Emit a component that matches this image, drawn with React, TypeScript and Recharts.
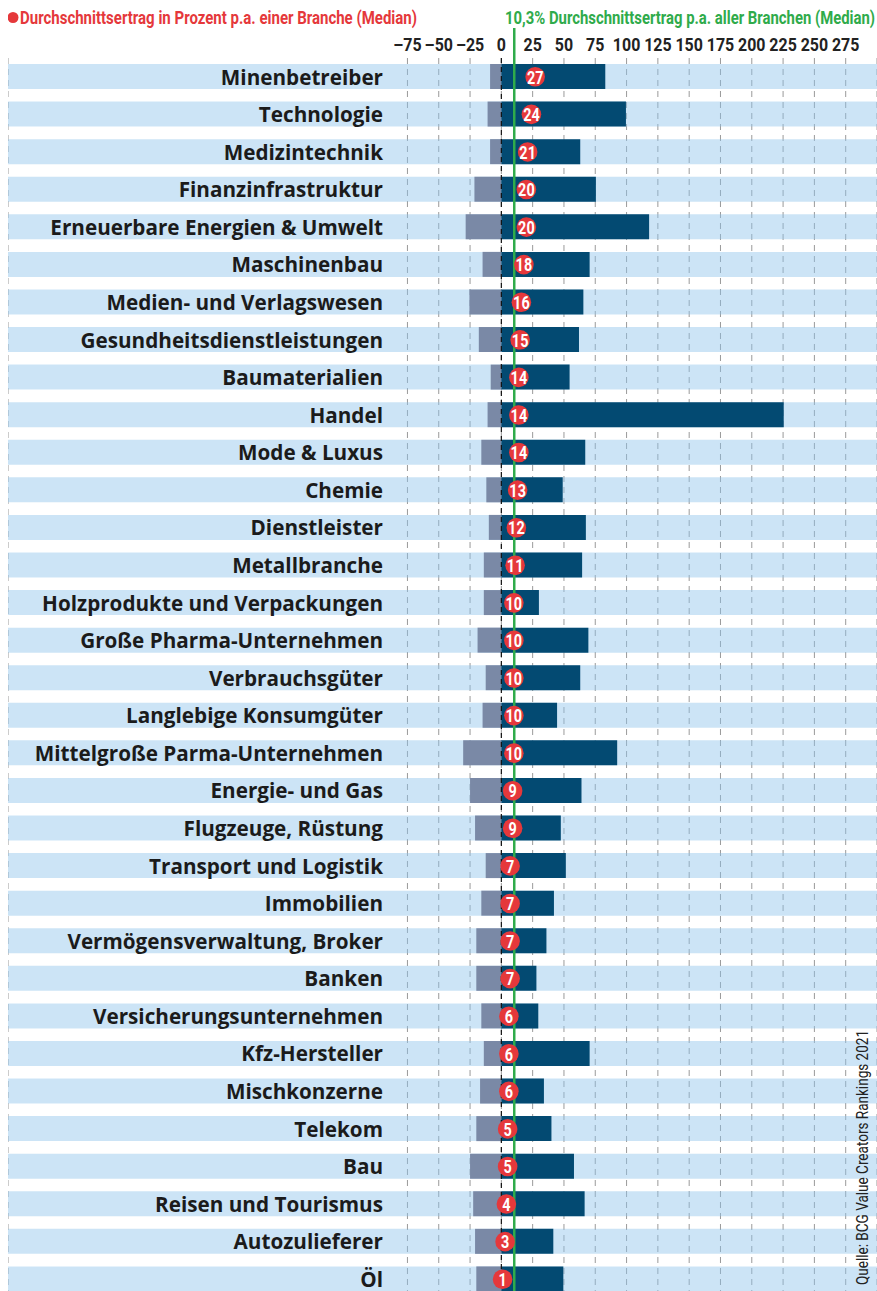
import React from 'react';
import {
  ComposedChart,
  Bar,
  Scatter,
  XAxis,
  YAxis,
  CartesianGrid,
  ReferenceLine,
  LabelList,
} from 'recharts';

const categories = [
  'Minenbetreiber',
  'Technologie',
  'Medizintechnik',
  'Finanzinfrastruktur',
  'Erneuerbare Energien & Umwelt',
  'Maschinenbau',
  'Medien- und Verlagswesen',
  'Gesundheitsdienstleistungen',
  'Baumaterialien',
  'Handel',
  'Mode & Luxus',
  'Chemie',
  'Dienstleister',
  'Metallbranche',
  'Holzprodukte und Verpackungen',
  'Große Pharma-Unternehmen',
  'Verbrauchsgüter',
  'Langlebige Konsumgüter',
  'Mittelgroße Parma-Unternehmen',
  'Energie- und Gas',
  'Flugzeuge, Rüstung',
  'Transport und Logistik',
  'Immobilien',
  'Vermögensverwaltung, Broker',
  'Banken',
  'Versicherungsunternehmen',
  'Kfz-Hersteller',
  'Mischkonzerne',
  'Telekom',
  'Bau',
  'Reisen und Tourismus',
  'Autozulieferer',
  'Öl',
];

// Median return p.a. (red circles)
const medians = [27, 24, 21, 20, 20, 18, 16, 15, 14, 14, 14, 13, 12, 11, 10, 10, 10, 10, 10, 9, 9, 7, 7, 7, 7, 6, 6, 6, 5, 5, 4, 3, 1];

// lowest value (grey bars)
const minValues = [
  -9, -11, -9, -21.5, -28.5, -15, -25.5, -18, -8.5, -11, -16, -12, -10, -14, -14, -19, -12.5,
  -15, -30.5, -25, -21, -12.5, -16, -20, -20, -16, -14, -17, -20, -25, -22.5, -21, -20,
];

// highest value (dark bars)
const maxValues = [
  83, 99.5, 63, 75.5, 118, 70.5, 65.5, 62, 54.5, 225.5, 67, 49, 67.5, 64.5, 30, 69.5, 63,
  44.5, 92.5, 64, 47.5, 51.5, 42, 36, 28, 29.5, 70.5, 34, 40, 58, 66.5, 41.5, 49.5,
];

const ticks = [-75, -50, -25, 0, 25, 50, 75, 100, 125, 150, 175, 200, 225, 250, 275];
const overallMedian = 10.3;

const data = categories.map((name, i) => ({
  name,
  min: minValues[i],
  max: maxValues[i],
  median: medians[i],
}));

const FONT = 'Roboto, sans-serif';
const RED = '#e5383b';
const GREEN = '#2fab4b';
const LABEL_X = 375;

function NameLabel(props: any) {
  const { y, height, value } = props;
  return (
    <text
      x={LABEL_X}
      y={y + height / 2}
      textAnchor="end"
      dominantBaseline="central"
      fontFamily='"Open Sans", sans-serif'
      fontWeight={700}
      fontSize={20.7}
      fill="#1b1b1b"
    >
      {value}
    </text>
  );
}

function XTick(props: any) {
  const { x, y, payload } = props;
  const v = payload.value;
  const label = v < 0 ? '–' + Math.abs(v) : String(v);
  return (
    <g transform={`translate(${x},${y + 1}) scale(0.84,1)`}>
      <text textAnchor="middle" fontFamily={FONT} fontWeight={700} fontSize={19} fill="#222">
        {label}
      </text>
    </g>
  );
}

function MedianDot(props: any) {
  const { cx, cy, payload } = props;
  return (
    <g>
      <circle cx={cx} cy={cy} r={9.8} fill={RED} />
      <g transform={`translate(${cx},${cy}) scale(0.76,1)`}>
        <text
          textAnchor="middle"
          dominantBaseline="central"
          fontFamily={FONT}
          fontWeight={700}
          fontSize={19}
          fill="#fff"
        >
          {payload.median}
        </text>
      </g>
    </g>
  );
}

function GreenLine(props: any) {
  const { x1, y1, x2, y2 } = props;
  return <line x1={x1} y1={y1 - 30} x2={x2} y2={y2} stroke={GREEN} strokeWidth={2.5} />;
}

export default function App() {
  return (
    <div
      style={{
        position: 'fixed',
        left: 8,
        top: 8,
        width: 869,
        height: 1283,
        overflow: 'hidden',
        background: '#fff',
      }}
    >
      <ComposedChart
        width={869}
        height={1290}
        data={data}
        layout="vertical"
        stackOffset="sign"
        barSize={25}
        margin={{ top: 20, right: 0, bottom: 0, left: 0 }}
      >
        <CartesianGrid horizontal={false} stroke="#9a9a9a" strokeDasharray="6 5" />
        <XAxis
          type="number"
          orientation="top"
          domain={[-394, 300]}
          ticks={ticks}
          interval={0}
          height={30}
          axisLine={false}
          tickLine={false}
          tick={<XTick />}
        />
        <YAxis type="category" dataKey="name" hide />
        <Bar
          dataKey="min"
          stackId="r"
          fill="#7a89a6"
          background={{ fill: '#8ec4ec', fillOpacity: 0.45 }}
          isAnimationActive={false}
        >
          <LabelList dataKey="name" content={<NameLabel />} />
        </Bar>
        <Bar dataKey="max" stackId="r" fill="#034a72" isAnimationActive={false} />
        <ReferenceLine x={0} stroke="#111" strokeDasharray="5 4" strokeWidth={1.2} />
        <Scatter dataKey="median" shape={<MedianDot />} isAnimationActive={false} />
        <ReferenceLine x={overallMedian} shape={<GreenLine />} />
      </ComposedChart>
      <svg
        width={869}
        height={1283}
        style={{ position: 'absolute', left: 0, top: 0, pointerEvents: 'none' }}
      >
        <circle cx={5} cy={9.5} r={5.5} fill={RED} />
        <text
          x={12}
          y={15.5}
          textLength={397}
          lengthAdjust="spacingAndGlyphs"
          fontFamily={FONT}
          fontWeight={700}
          fontSize={18}
          fill={RED}
        >
          Durchschnittsertrag in Prozent p.a. einer Branche (Median)
        </text>
        <text
          x={497}
          y={15.5}
          textLength={370}
          lengthAdjust="spacingAndGlyphs"
          fontFamily={FONT}
          fontWeight={700}
          fontSize={18}
          fill={GREEN}
        >
          10,3% Durchschnittsertrag p.a. aller Branchen (Median)
        </text>
        <text
          transform="translate(860,1277) rotate(-90)"
          textLength={255}
          lengthAdjust="spacingAndGlyphs"
          fontFamily={FONT}
          fontSize={16}
          fill="#222"
        >
          Quelle: BCG Value Creators Rankings 2021
        </text>
      </svg>
    </div>
  );
}
